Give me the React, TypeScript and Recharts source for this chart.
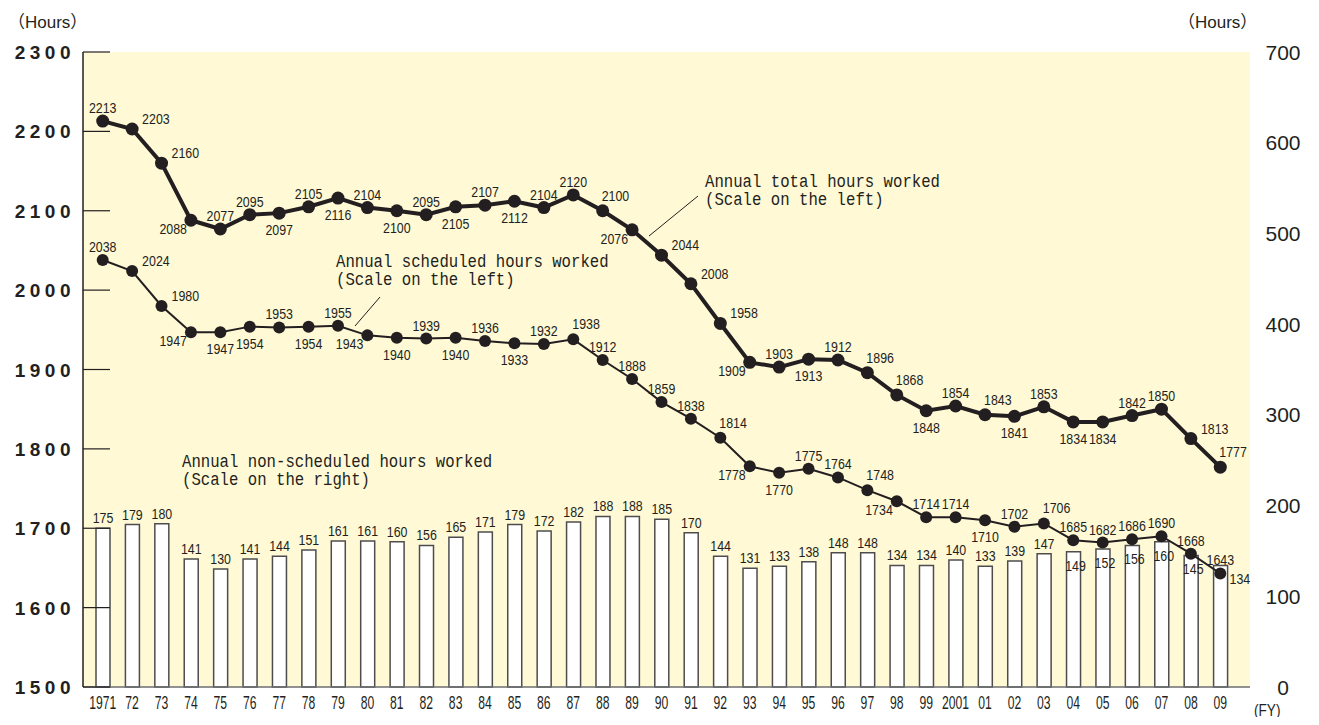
import { Bar, CartesianGrid, ComposedChart, LabelList, Line, XAxis, YAxis } from "recharts";

const years = [
  "1971", "72", "73", "74", "75", "76", "77", "78", "79", "80",
  "81", "82", "83", "84", "85", "86", "87", "88", "89", "90",
  "91", "92", "93", "94", "95", "96", "97", "98", "99", "2001",
  "01", "02", "03", "04", "05", "06", "07", "08", "09",
];

const totalHours = [
  2213, 2203, 2160, 2088, 2077, 2095, 2097, 2105, 2116, 2104,
  2100, 2095, 2105, 2107, 2112, 2104, 2120, 2100, 2076, 2044,
  2008, 1958, 1909, 1903, 1913, 1912, 1896, 1868, 1848, 1854,
  1843, 1841, 1853, 1834, 1834, 1842, 1850, 1813, 1777,
];

const scheduledHours = [
  2038, 2024, 1980, 1947, 1947, 1954, 1953, 1954, 1955, 1943,
  1940, 1939, 1940, 1936, 1933, 1932, 1938, 1912, 1888, 1859,
  1838, 1814, 1778, 1770, 1775, 1764, 1748, 1734, 1714, 1714,
  1710, 1702, 1706, 1685, 1682, 1686, 1690, 1668, 1643,
];

const nonScheduledHours = [
  175, 179, 180, 141, 130, 141, 144, 151, 161, 161,
  160, 156, 165, 171, 179, 172, 182, 188, 188, 185,
  170, 144, 131, 133, 138, 148, 148, 134, 134, 140,
  133, 139, 147, 149, 152, 156, 160, 145, 134,
];

const leftTicks = [1500, 1600, 1700, 1800, 1900, 2000, 2100, 2200, 2300];
const rightTicks = [0, 100, 200, 300, 400, 500, 600, 700];

// where each value label sits next to its point: a above, b below, r right, ar above-right, bl below-left
const totalSpots = [
  "a", "r", "r", "bl", "a", "a", "b", "a", "b", "a",
  "b", "a", "b", "a", "b", "a", "a", "ar", "bl", "r",
  "r", "r", "bl", "a", "b", "a", "ar", "ar", "b", "a",
  "ar", "b", "a", "b", "b", "a", "a", "r", "ar",
];
const scheduledSpots = [
  "a", "r", "r", "bl", "b", "b", "a", "b", "a", "bl",
  "b", "a", "b", "a", "b", "a", "ar", "a", "a", "a",
  "a", "ar", "bl", "b", "a", "a", "ar", "bl", "a", "a",
  "b", "a", "ar", "a", "a", "a", "a", "a", "a",
];
const barSpots = years.map((_, i) => (i === 38 ? "side" : i >= 33 ? "in" : "top"));

const data = years.map((year, i) => ({
  year,
  total: totalHours[i],
  scheduled: scheduledHours[i],
  nonScheduled: nonScheduledHours[i],
}));

const INK = "#231f20";
const SANS = "'Liberation Sans', Arial, sans-serif";
const MONO = "'Liberation Mono', 'DejaVu Sans Mono', monospace";

// condensed number text, like the narrow gothic face of the original
function Narrow({ x, y, anchor, size = 15.5, squeeze = 0.8, children }: any) {
  return (
    <text transform={`translate(${x},${y}) scale(${squeeze},1)`} textAnchor={anchor}
      fontFamily={SANS} fontSize={size} fill={INK}>
      {children}
    </text>
  );
}

function pointLabel(spots: string[]) {
  return (props: any) => {
    const vb = props.viewBox || {};
    const x = props.x ?? vb.x;
    const y = props.y ?? vb.y;
    const spot = spots[props.index];
    let dx = 0;
    let dy = -8;
    let anchor = "middle";
    if (spot === "b") dy = 22;
    else if (spot === "r") { dx = 10; dy = -5; anchor = "start"; }
    else if (spot === "ar") { dx = -1; dy = -10; anchor = "start"; }
    else if (spot === "bl") { dx = -4; dy = 14; anchor = "end"; }
    return <Narrow x={x + dx} y={y + dy} anchor={anchor}>{props.value}</Narrow>;
  };
}

function barLabel(props: any) {
  const vb = props.viewBox || {};
  const x = props.x ?? vb.x;
  const y = props.y ?? vb.y;
  const w = props.width ?? vb.width;
  const spot = barSpots[props.index];
  let tx = x + w / 2;
  let ty = y - 5;
  let anchor = "middle";
  if (spot === "in") { tx += 2; ty = y + 19; }
  else if (spot === "side") { tx = x + w + 2; ty = y + 19; anchor = "start"; }
  return <Narrow x={tx} y={ty} anchor={anchor}>{props.value}</Narrow>;
}

function LeftTick(props: any) {
  const { x, y, payload } = props;
  return (
    <g>
      <line x1={x} x2={x + 27} y1={y} y2={y} stroke={INK} strokeWidth={1.2} />
      <text x={x - 8} y={y + 7} textAnchor="end" fontFamily={SANS} fontWeight={700}
        fontSize={19} letterSpacing={4.5} fill={INK}>
        {payload.value}
      </text>
    </g>
  );
}

function RightTick(props: any) {
  const { x, y, payload } = props;
  return (
    <text x={x + 33} y={y + 7.5} textAnchor="middle" fontFamily={SANS} fontSize={21} fill={INK}>
      {payload.value}
    </text>
  );
}

function YearTick(props: any) {
  const { x, y, payload } = props;
  return <Narrow x={x} y={y + 22} anchor="middle" size={19} squeeze={0.64}>{payload.value}</Narrow>;
}

function Note({ x, y, lines }: { x: number; y: number; lines: string[] }) {
  return (
    <g>
      {lines.map((t, i) => (
        <text key={i} x={x} y={y + i * 18} fontFamily={MONO} fontSize={18} fill={INK}
          textLength={t.length * 9.4} lengthAdjust="spacingAndGlyphs">
          {t}
        </text>
      ))}
    </g>
  );
}

export default function App() {
  return (
    <div style={{ position: "relative", width: 1319, height: 725, margin: -8, background: "#fff" }}>
      <ComposedChart width={1319} height={725} data={data} margin={{ top: 52, right: 0, bottom: 0, left: 0 }}>
        <CartesianGrid fill="#fff9d6" horizontal={false} vertical={false} />
        <XAxis dataKey="year" height={38} interval={0} tickLine={false} tickSize={0} tickMargin={0}
          padding={{ left: 5, right: 15 }} axisLine={{ stroke: "#6d6e71", strokeWidth: 1.5 }} tick={<YearTick />} />
        <YAxis yAxisId="left" width={83} domain={[1500, 2300]} ticks={leftTicks} tickLine={false}
          tickSize={0} tickMargin={0} axisLine={{ stroke: INK, strokeWidth: 1.5 }} tick={<LeftTick />} />
        <YAxis yAxisId="right" orientation="right" width={69} domain={[0, 700]} ticks={rightTicks}
          tickLine={false} tickSize={0} tickMargin={0} axisLine={false} tick={<RightTick />} />
        <Bar yAxisId="right" dataKey="nonScheduled" barSize={14} fill="#fff" stroke="#4d4d4f"
          strokeWidth={1.5} isAnimationActive={false}>
          <LabelList dataKey="nonScheduled" content={barLabel} />
        </Bar>
        <Line yAxisId="left" dataKey="scheduled" stroke={INK} strokeWidth={2}
          dot={{ r: 6, fill: INK, stroke: "none" }} isAnimationActive={false}>
          <LabelList dataKey="scheduled" content={pointLabel(scheduledSpots)} />
        </Line>
        <Line yAxisId="left" dataKey="total" stroke={INK} strokeWidth={4}
          dot={{ r: 6.5, fill: INK, stroke: "none" }} isAnimationActive={false}>
          <LabelList dataKey="total" content={pointLabel(totalSpots)} />
        </Line>
      </ComposedChart>
      <svg width={1319} height={725} style={{ position: "absolute", left: 0, top: 0, pointerEvents: "none" }}>
        <text x={8} y={28} fontFamily={`${SANS}, 'Noto Sans CJK JP'`} fontSize={17} fill={INK}>（Hours）</text>
        <text x={1178} y={28} fontFamily={`${SANS}, 'Noto Sans CJK JP'`} fontSize={17} fill={INK}>（Hours）</text>
        <Narrow x={1254} y={716} anchor="start" size={16} squeeze={0.85}>(FY)</Narrow>
        <Note x={705} y={187} lines={["Annual total hours worked", "(Scale on the left)"]} />
        <line x1={698} y1={196} x2={649} y2={236} stroke={INK} strokeWidth={1} />
        <Note x={336} y={267} lines={["Annual scheduled hours worked", "(Scale on the left)"]} />
        <line x1={380} y1={297} x2={355} y2={326} stroke={INK} strokeWidth={1} />
        <Note x={182} y={467} lines={["Annual non-scheduled hours worked", "(Scale on the right)"]} />
      </svg>
    </div>
  );
}
